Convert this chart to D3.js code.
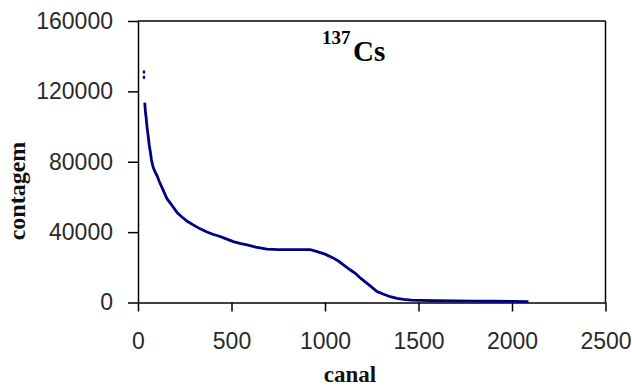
<!DOCTYPE html>
<html>
<head>
<meta charset="utf-8">
<script src="https://cdn.jsdelivr.net/npm/d3@7"></script>
<style>
  html, body { margin: 0; padding: 0; background: #fff; }
  svg { display: block; }
</style>
</head>
<body>
<svg id="chart" width="632" height="387"></svg>
<script>
// Data
const xTicks = [0, 500, 1000, 1500, 2000, 2500];
const yTicks = [0, 40000, 80000, 120000, 160000];
const xTitle = "canal";
const yTitle = "contagem";
const isotopeMass = "137";
const isotopeSymbol = "Cs";

// isolated top points (channel, counts)
const peakChannels = [32, 32];
const peakCounts = [131000, 128000];

// spectrum curve (channel, counts)
const channels = [36, 40, 43, 48, 54, 60, 66, 72, 80, 90, 102, 115, 134, 155, 187, 210, 235, 265, 295, 330,
  369, 400, 439, 475, 510, 545, 583, 630, 690, 750, 800, 860, 921, 958, 1000, 1046, 1075, 1099, 1130, 1162,
  1190, 1225, 1250, 1278, 1310, 1349, 1385, 1420, 1460, 1510, 1600, 1700, 1800, 1900, 2000, 2088];
const counts = [113600, 108000, 105600, 100000, 95000, 89500, 85500, 81100, 77200, 74500, 72000, 68500, 64000, 59000, 54400, 51000, 48600, 46000, 44100, 42000,
  40100, 38800, 37500, 36000, 34600, 33600, 32700, 31500, 30300, 30100, 30000, 30100, 30000, 28900, 27500, 25200, 23300, 21400, 18900, 16600,
  13800, 10900, 8700, 6200, 4800, 3300, 2400, 1800, 1400, 1200, 1000, 900, 800, 700, 600, 500];

const svg = d3.select("#chart");
const mLeft = 138, mRight = 605.5, mTop = 21, mBottom = 302.5;

const x = d3.scaleLinear().domain([0, 2500]).range([mLeft, mRight]);
const y = d3.scaleLinear().domain([0, 160000]).range([mBottom, mTop]);

const tickFont = "'Liberation Sans', Arial, sans-serif";
const serif = "'Liberation Serif', 'Times New Roman', serif";

// frame (top and right)
svg.append("line").attr("x1", x(0)).attr("x2", x(2500)).attr("y1", y(160000)).attr("y2", y(160000))
  .attr("stroke", "#000").attr("stroke-width", 1.5);
svg.append("line").attr("x1", x(2500)).attr("x2", x(2500)).attr("y1", y(160000)).attr("y2", y(0))
  .attr("stroke", "#000").attr("stroke-width", 1.5);

// y axis
const gy = svg.append("g").attr("transform", `translate(${mLeft},0)`)
  .call(d3.axisLeft(y).tickValues(yTicks).tickFormat(d3.format("d")).tickSizeInner(10).tickSizeOuter(0).tickPadding(15));
// x axis
const gx = svg.append("g").attr("transform", `translate(0,${mBottom})`)
  .call(d3.axisBottom(x).tickValues(xTicks).tickFormat(d3.format("d")).tickSizeInner(9).tickSizeOuter(0).tickPadding(21));

[gx, gy].forEach(g => {
  g.select(".domain").attr("stroke", "#000").attr("stroke-width", 1.5);
  g.selectAll(".tick line").attr("stroke", "#000").attr("stroke-width", 1.5);
  g.selectAll(".tick text").attr("fill", "#2a2a2a").style("font-family", tickFont).style("font-size", "23px");
});

// curve
const pts = channels.map((c, i) => [c, counts[i]]);
svg.append("path").datum(pts)
  .attr("fill", "none").attr("stroke", "#000080").attr("stroke-width", 2.8)
  .attr("d", d3.line().x(d => x(d[0])).y(d => y(d[1])));

// isolated points
svg.selectAll("rect.peak").data(peakChannels.map((c, i) => [c, peakCounts[i]])).enter()
  .append("rect").attr("class", "peak")
  .attr("x", d => x(d[0]) - 1.2).attr("y", d => y(d[1]) - 1.5)
  .attr("width", 2.4).attr("height", 3).attr("fill", "#000080");

// axis titles
svg.append("text").attr("x", 350).attr("y", 382).attr("text-anchor", "middle")
  .style("font-family", serif).style("font-weight", "bold").style("font-size", "23px").attr("fill", "#111")
  .text(xTitle);
svg.append("text").attr("transform", "translate(25,191) rotate(-90)").attr("text-anchor", "middle")
  .style("font-family", serif).style("font-weight", "bold").style("font-size", "24px").attr("fill", "#111")
  .text(yTitle);

// chart title 137Cs
svg.append("text").attr("x", 322).attr("y", 44)
  .style("font-family", serif).style("font-weight", "bold").style("font-size", "19px").attr("fill", "#000")
  .text(isotopeMass);
svg.append("text").attr("x", 353).attr("y", 61)
  .style("font-family", serif).style("font-weight", "bold").style("font-size", "29px").attr("fill", "#000")
  .text(isotopeSymbol);
</script>
</body>
</html>
